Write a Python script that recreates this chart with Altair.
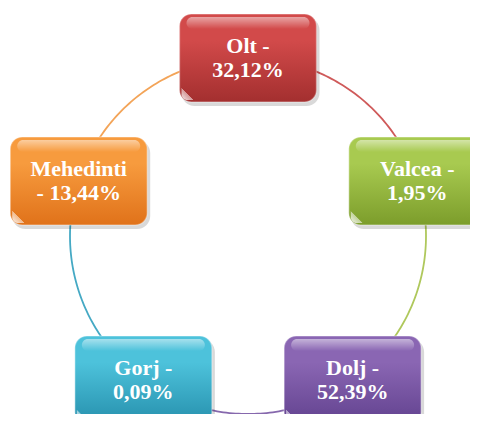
import altair as alt
import numpy as np
import pandas as pd

# ---- data ----
regions = ["Olt", "Valcea", "Dolj", "Gorj", "Mehedinti"]
shares = ["32,12%", "1,95%", "52,39%", "0,09%", "13,44%"]

# ---- styles ----
top_colors = ["#d24a4a", "#a8ca50", "#8a66b3", "#4dc2db", "#f79b3e"]
bottom_colors = ["#a32f2f", "#7c9d2b", "#62428f", "#2690ad", "#e0721a"]
arc_colors = ["#cf5a5a", "#afc85c", "#8668ad", "#45a9c4", "#f3a458"]

# ---- layout (page pixel coordinates) ----
CX, CY, R = 248, 236, 178
BW, BH = 137, 88
W, H = 462, 406
X0, Y0 = 8, 8
FS = 22
LH = 24

def label_lines(name, share):
    if len(name) > 7:
        return name, f"- {share}"
    return f"{name} -", share

n = len(regions)
angles = [-90 + 360 / n * i for i in range(n)]

boxes = []
for i, (name, share) in enumerate(zip(regions, shares)):
    a = np.deg2rad(angles[i])
    cx = CX + R * np.cos(a)
    cy = CY + R * np.sin(a)
    l1, l2 = label_lines(name, share)
    boxes.append(dict(name=name, line1=l1, line2=l2, cx=cx, cy=cy,
                      x1=cx - BW / 2, x2=cx + BW / 2, y1=cy - BH / 2, y2=cy + BH / 2))
box_df = pd.DataFrame(boxes)

arc_rows = []
for i, name in enumerate(regions):
    for k, deg in enumerate(np.arange(angles[i], angles[i] + 360 / n + 0.5, 1.0)):
        a = np.deg2rad(deg)
        arc_rows.append(dict(seg=name, k=k, x=CX + R * np.cos(a), y=CY + R * np.sin(a)))
arc_df = pd.DataFrame(arc_rows)

xs = alt.Scale(domain=[X0, X0 + W], nice=False, zero=False)
ys = alt.Scale(domain=[Y0, Y0 + H], nice=False, zero=False, reverse=True)
noax = None

arcs = alt.Chart(arc_df).mark_line(strokeWidth=1.8, clip=True).encode(
    x=alt.X("x:Q", scale=xs, axis=noax),
    y=alt.Y("y:Q", scale=ys, axis=noax),
    color=alt.Color("seg:N", scale=alt.Scale(domain=regions, range=arc_colors), legend=None),
    order="k:Q",
)

layers = [arcs]
for i, name in enumerate(regions):
    d = box_df[box_df.name == name].copy()
    d["sx1"] = d.x1 + 2; d["sx2"] = d.x2 + 3; d["sy1"] = d.y1 + 3; d["sy2"] = d.y2 + 4
    d["hx1"] = d.x1 + 7; d["hx2"] = d.x2 - 7; d["hy1"] = d.y1 + 3; d["hy2"] = d.y1 + 15
    d["cx1"] = d.x1 + 2; d["cx2"] = d.x1 + 14; d["cy1"] = d.y2 - 14; d["cy2"] = d.y2 - 2
    base = alt.Chart(d)
    shadow = base.mark_rect(cornerRadius=13, color="#000000", opacity=0.15, clip=True).encode(
        x=alt.X("sx1:Q", scale=xs, axis=noax), x2="sx2:Q",
        y=alt.Y("sy1:Q", scale=ys, axis=noax), y2="sy2:Q")
    grad = alt.Gradient(gradient="linear", x1=0, x2=0, y1=0, y2=1,
                        stops=[alt.GradientStop(offset=0, color=top_colors[i]),
                               alt.GradientStop(offset=0.3, color=top_colors[i]),
                               alt.GradientStop(offset=1, color=bottom_colors[i])])
    main = base.mark_rect(cornerRadius=12, fill=grad, stroke="#ffffff", strokeOpacity=0.3,
                          strokeWidth=1.5, clip=True).encode(
        x=alt.X("x1:Q", scale=xs, axis=noax), x2="x2:Q",
        y=alt.Y("y1:Q", scale=ys, axis=noax), y2="y2:Q")
    hgrad = alt.Gradient(gradient="linear", x1=0, x2=0, y1=0, y2=1,
                         stops=[alt.GradientStop(offset=0, color="rgba(255,255,255,0.5)"),
                                alt.GradientStop(offset=1, color="rgba(255,255,255,0.0)")])
    hl = base.mark_rect(cornerRadius=7, fill=hgrad, clip=True).encode(
        x=alt.X("hx1:Q", scale=xs, axis=noax), x2="hx2:Q",
        y=alt.Y("hy1:Q", scale=ys, axis=noax), y2="hy2:Q")
    cgrad = alt.Gradient(gradient="linear", x1=0, x2=1, y1=1, y2=0,
                         stops=[alt.GradientStop(offset=0, color="rgba(255,255,255,0.9)"),
                                alt.GradientStop(offset=0.5, color="rgba(255,255,255,0.5)"),
                                alt.GradientStop(offset=0.51, color="rgba(255,255,255,0.0)"),
                                alt.GradientStop(offset=1, color="rgba(255,255,255,0.0)")])
    corner = base.mark_rect(cornerRadiusBottomLeft=10, fill=cgrad, clip=True).encode(
        x=alt.X("cx1:Q", scale=xs, axis=noax), x2="cx2:Q",
        y=alt.Y("cy1:Q", scale=ys, axis=noax), y2="cy2:Q")
    tprops = dict(font="Liberation Serif", fontWeight="bold", fontSize=FS,
                  color="#ffffff", align="center", baseline="middle", clip=True)
    t1 = base.mark_text(dy=-LH / 2, **tprops).encode(
        x=alt.X("cx:Q", scale=xs, axis=noax),
        y=alt.Y("cy:Q", scale=ys, axis=noax),
        text="line1:N")
    t2 = base.mark_text(dy=LH / 2, **tprops).encode(
        x=alt.X("cx:Q", scale=xs, axis=noax),
        y=alt.Y("cy:Q", scale=ys, axis=noax),
        text="line2:N")
    layers += [shadow, main, hl, corner, t1, t2]

chart = alt.layer(*layers).properties(
    width=W, height=H, padding=0, autosize=alt.AutoSizeParams(type="none"),
    background="#ffffff"
).configure_view(stroke=None)

chart.save("out.html", embed_options={"renderer": "svg", "actions": False})
